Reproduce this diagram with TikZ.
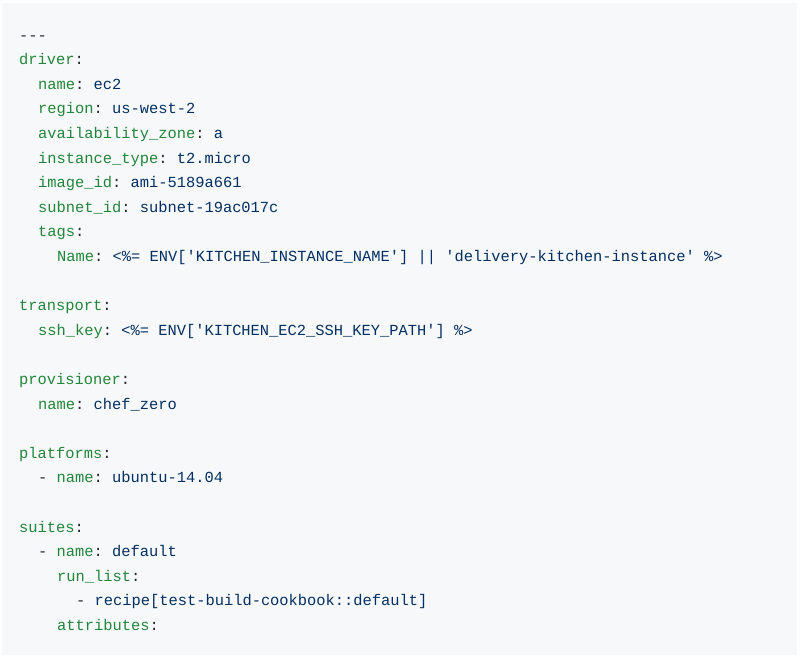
\documentclass[tikz,border=0pt]{standalone}
\usepackage{fontspec}
\setmonofont{Liberation Mono}
\definecolor{bgc}{RGB}{246,248,250}
\definecolor{keyc}{RGB}{34,134,58}
\definecolor{valc}{RGB}{3,47,98}
\definecolor{punc}{RGB}{36,41,46}
\newcommand{\kk}[1]{\textcolor{keyc}{#1}}
\newcommand{\vv}[1]{\textcolor{valc}{#1}}
\begin{document}
\begin{tikzpicture}[x=1pt,y=-1pt,ln/.style={anchor=base west,inner sep=0pt,font=\fontsize{15.4}{18}\ttfamily,text=punc}]
\useasboundingbox (0,0) rectangle (802,657);
\fill[bgc] (2,3) rectangle (797,655);
\def\s{24.6}
\node[ln] (l0) at (19,40) {---};
\node[ln] (l1) at (19,40+1*\s) {\kk{driver}:};
\node[ln] (l2) at (38,40+2*\s) {\kk{name}: \vv{ec2}};
\node[ln] (l3) at (38,40+3*\s) {\kk{region}: \vv{us-west-2}};
\node[ln] (l4) at (38,40+4*\s) {\kk{availability\_zone}: \vv{a}};
\node[ln] (l5) at (38,40+5*\s) {\kk{instance\_type}: \vv{t2.micro}};
\node[ln] (l6) at (38,40+6*\s) {\kk{image\_id}: \vv{ami-5189a661}};
\node[ln] (l7) at (38,40+7*\s) {\kk{subnet\_id}: \vv{subnet-19ac017c}};
\node[ln] (l8) at (38,40+8*\s) {\kk{tags}:};
\node[ln] (l9) at (57,40+9*\s) {\kk{Name}: \vv{<\%= ENV['KITCHEN\_INSTANCE\_NAME'] || 'delivery-kitchen-instance' \%>}};
\node[ln] (l11) at (19,40+11*\s) {\kk{transport}:};
\node[ln] (l12) at (38,40+12*\s) {\kk{ssh\_key}: \vv{<\%= ENV['KITCHEN\_EC2\_SSH\_KEY\_PATH'] \%>}};
\node[ln] (l14) at (19,40+14*\s) {\kk{provisioner}:};
\node[ln] (l15) at (38,40+15*\s) {\kk{name}: \vv{chef\_zero}};
\node[ln] (l17) at (19,40+17*\s) {\kk{platforms}:};
\node[ln] (l18) at (38,40+18*\s) {- \kk{name}: \vv{ubuntu-14.04}};
\node[ln] (l20) at (19,40+20*\s) {\kk{suites}:};
\node[ln] (l21) at (38,40+21*\s) {- \kk{name}: \vv{default}};
\node[ln] (l22) at (57,40+22*\s) {\kk{run\_list}:};
\node[ln] (l23) at (76,40+23*\s) {- \vv{recipe[test-build-cookbook::default]}};
\node[ln] (l24) at (57,40+24*\s) {\kk{attributes}:};
\end{tikzpicture}
\end{document}
